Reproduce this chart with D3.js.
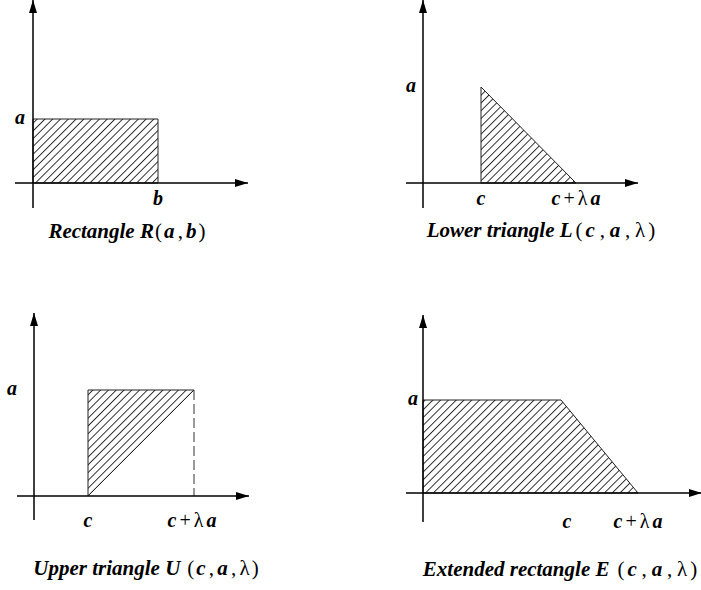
<!DOCTYPE html>
<html>
<head>
<meta charset="utf-8">
<script src="https://cdn.jsdelivr.net/npm/d3@7"></script>
<style>
  body { margin: 0; background: #fff; }
  text { font-family: "Liberation Serif", "Times New Roman", serif; fill: #000; }
</style>
</head>
<body>
<script>
// shape parameters per panel, in plot units (1 unit = 10px)
var shapeNames = ["Rectangle", "Lower triangle", "Upper triangle", "Extended rectangle"],
	shapeLetters = ["R", "L", "U", "E"],
	shapeArgs = [["a", "b"], ["c", "a", "λ"], ["c", "a", "λ"], ["c", "a", "λ"]];

var aHeight = [6.4, 9.6, 10.6, 9.3],
	cPos = [0, 5.8, 5.4, 13.8],
	spanLen = [12.5, 9.5, 10.6, 7.7];	// b for the rectangle, λa for the rest

var xTickLabels = [["b"], ["c", "c+λa"], ["c", "c+λa"], ["c", "c+λa"]],
	yTickLabels = ["a", "a", "a", "a"];

var xAxisExtent = [[-1.8, 21.5], [-1.7, 21.5], [-1.7, 21.5], [-1.7, 27.9]],
	yAxisExtent = [[-2.5, 18.3], [-2.5, 18.3], [-2.4, 18.3], [-2.9, 17.8]];

// layout
var width = 701, height = 590,
	origins = [[33, 183], [423, 183], [34, 496], [423, 493]],
	aLabelDx = [-13, -12, -22, -10],
	xLabelDy = [22, 22, 31, 35],
	xLabelDx = [[0], [0, 0], [0, -2], [6, 0]],
	captionPos = [[127, 238], [541, 237], [146, 575], [560, 576]],
	captionLead = [1, 3, 7, 8],
	captionSpacing = [2, 3, 2, 3],
	labelSize = 20,
	captionSize = 21;

var svg = d3.select("body")
		.append("svg")
		.attr("width", width)
		.attr("height", height);

var defs = svg.append("defs");

defs.append("marker")
	.attr("id", "arrow")
	.attr("viewBox", "0 0 13 8")
	.attr("refX", 13)
	.attr("refY", 4)
	.attr("markerUnits", "userSpaceOnUse")
	.attr("markerWidth", 13)
	.attr("markerHeight", 8)
	.attr("orient", "auto")
  .append("path")
	.attr("d", "M0,0L13,4L0,8Z")
	.attr("fill", "#000");

var hatch = defs.append("pattern")
	.attr("id", "hatch")
	.attr("patternUnits", "userSpaceOnUse")
	.attr("width", 5.5)
	.attr("height", 10)
	.attr("patternTransform", "rotate(45)");
hatch.append("line")
	.attr("x1", 0.5).attr("y1", 0)
	.attr("x2", 0.5).attr("y2", 10)
	.attr("stroke", "#111")
	.attr("stroke-width", 0.9);

var shapeOf = function (i) {
	var a = aHeight[i], c = cPos[i], s = spanLen[i];
	if (i == 0) return [[0, 0], [0, a], [s, a], [s, 0]];
	if (i == 1) return [[c, 0], [c, a], [c + s, 0]];
	if (i == 2) return [[c, 0], [c, a], [c + s, a]];
	return [[0, 0], [0, a], [c, a], [c + s, 0]];
}

// writes a math string: latin letters bold italic, the rest upright
var mathText = function (sel, str, gap, lead) {
	var prev = "", first = true;
	str.split("").forEach(function (ch) {
		var latin = /[A-Za-z]/.test(ch);
		if (ch == " ") { prev = ch; return; }
		var dx = 0;
		if (first) dx = lead || 0;
		else if (prev == " ") dx = gap * 1.6;
		else if (ch == "+" || ch == "λ" || prev == "+" || prev == "λ" || prev == "(" || ch == ")") dx = gap;
		sel.append("tspan")
			.attr("font-weight", latin ? "bold" : "normal")
			.attr("font-style", latin ? "italic" : "normal")
			.attr("dx", dx)
			.text(ch);
		prev = ch;
		first = false;
	});
}

shapeNames.forEach(function (name, i) {
	var ox = origins[i][0], oy = origins[i][1];
	var x = d3.scaleLinear().domain([0, 10]).range([ox, ox + 100]),
		y = d3.scaleLinear().domain([0, 10]).range([oy, oy - 100]);

	var g = svg.append("g");

	// shaded shape
	g.append("path")
		.attr("d", d3.line().x(function (d) { return x(d[0]); }).y(function (d) { return y(d[1]); })(shapeOf(i)) + "Z")
		.attr("fill", "url(#hatch)")
		.attr("stroke", "#222")
		.attr("stroke-width", 1);

	if (i == 2) {
		g.append("line")
			.attr("x1", x(cPos[i] + spanLen[i])).attr("y1", y(aHeight[i]))
			.attr("x2", x(cPos[i] + spanLen[i])).attr("y2", y(0))
			.attr("stroke", "#333")
			.attr("stroke-width", 1)
			.attr("stroke-dasharray", "10,4");
	}

	// axes
	g.append("line")
		.attr("x1", x(xAxisExtent[i][0])).attr("y1", y(0))
		.attr("x2", x(xAxisExtent[i][1])).attr("y2", y(0))
		.attr("stroke", "#000").attr("stroke-width", 1.5)
		.attr("marker-end", "url(#arrow)");
	g.append("line")
		.attr("x1", x(0)).attr("y1", y(yAxisExtent[i][0]))
		.attr("x2", x(0)).attr("y2", y(yAxisExtent[i][1]))
		.attr("stroke", "#000").attr("stroke-width", 1.5)
		.attr("marker-end", "url(#arrow)");

	// y label
	g.append("text")
		.attr("x", x(0) + aLabelDx[i])
		.attr("y", y(aHeight[i]) + 5)
		.attr("text-anchor", "middle")
		.attr("font-size", labelSize)
		.attr("font-weight", "bold")
		.attr("font-style", "italic")
		.text(yTickLabels[i]);

	// x labels
	var xVals = i == 0 ? [spanLen[i]] : [cPos[i], cPos[i] + spanLen[i]];
	xTickLabels[i].forEach(function (lab, k) {
		var t = g.append("text")
			.attr("x", x(xVals[k]) + xLabelDx[i][k])
			.attr("y", y(0) + xLabelDy[i])
			.attr("text-anchor", "middle")
			.attr("font-size", labelSize);
		mathText(t, lab, 3, 0);
	});

	// caption
	var cap = g.append("text")
		.attr("x", captionPos[i][0])
		.attr("y", captionPos[i][1])
		.attr("text-anchor", "middle")
		.attr("font-size", captionSize);
	cap.append("tspan")
		.attr("font-weight", "bold")
		.attr("font-style", "italic")
		.text(name + " " + shapeLetters[i]);
	mathText(cap, "(" + shapeArgs[i].join(" , ") + ")", captionSpacing[i], captionLead[i]);
});
</script>
</body>
</html>
